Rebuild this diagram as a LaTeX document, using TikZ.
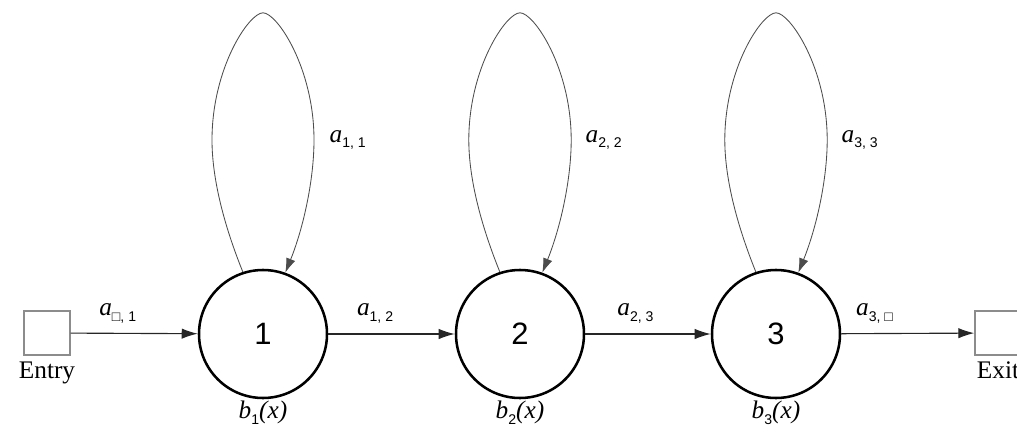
\documentclass[tikz,border=0pt]{standalone}
\usepackage{fontspec}
\setmainfont{Liberation Serif}
\setsansfont{Liberation Sans}
\usetikzlibrary{arrows.meta,positioning}
\newcommand{\trp}[2]{\textit{#1}\raisebox{-0.5ex}{\fontsize{10}{10}\sffamily #2}}

\begin{document}
\begin{tikzpicture}[
  state/.style={circle, draw=black, line width=1.8pt, minimum size=3.2cm, inner sep=0pt,
                font=\fontsize{22}{24}\sffamily},
  term/.style={rectangle, draw=black!45, line width=1pt, minimum width=1.15cm,
               minimum height=1.1cm, inner sep=0pt},
  lbl/.style={font=\fontsize{18}{20}\selectfont, inner sep=1pt},
  flow/.style={-{Latex[length=4mm,width=2.6mm]}, draw=black!85, line width=0.8pt},
  selfloop/.style={-{Latex[length=3.6mm,width=2.4mm]}, draw=black!70, line width=0.6pt}
]
\useasboundingbox (0,0) rectangle (25.425,10.9);
\node[term]  (entry) at (1.175,2.575) {};
\node[term]  (exit)  at (24.95,2.575) {};
\node[state] (s1)    at (6.575,2.55)  {1};
\node[state] (s2)    at (13.0,2.55)   {2};
\node[state] (s3)    at (19.4,2.55)   {3};
\node[lbl, below=3pt of entry] (entrytxt) {Entry};
\node[lbl, below=3pt of exit]  (exittxt)  {Exit};
\node[lbl, below=0pt of s1] (b1) {\trp{b}{1}\textit{(x)}};
\node[lbl, below=0pt of s2] (b2) {\trp{b}{2}\textit{(x)}};
\node[lbl, below=0pt of s3] (b3) {\trp{b}{3}\textit{(x)}};
% loop shape points
\coordinate (w1l) at (5.3,7.4);   \coordinate (t1) at (6.575,10.58); \coordinate (w1r) at (7.85,7.4);
\coordinate (w2l) at (11.72,7.4); \coordinate (t2) at (13.0,10.58);  \coordinate (w2r) at (14.28,7.4);
\coordinate (w3l) at (18.12,7.4); \coordinate (t3) at (19.4,10.58);  \coordinate (w3r) at (20.68,7.4);
% self transitions
\draw[selfloop] (s1.108) .. controls +(112:1.2) and +(0,-1.0) .. (w1l)
  .. controls +(0,1.8) and +(-0.35,0) .. (t1) .. controls +(0.35,0) and +(0,1.8) .. (w1r)
  .. controls +(0,-1.0) and +(68:1.2) .. (s1.70);
\draw[selfloop] (s2.108) .. controls +(112:1.2) and +(0,-1.0) .. (w2l)
  .. controls +(0,1.8) and +(-0.35,0) .. (t2) .. controls +(0.35,0) and +(0,1.8) .. (w2r)
  .. controls +(0,-1.0) and +(68:1.2) .. (s2.70);
\draw[selfloop] (s3.108) .. controls +(112:1.2) and +(0,-1.0) .. (w3l)
  .. controls +(0,1.8) and +(-0.35,0) .. (t3) .. controls +(0.35,0) and +(0,1.8) .. (w3r)
  .. controls +(0,-1.0) and +(68:1.2) .. (s3.70);
\node[lbl, anchor=west] (a11) at (8.2,7.4)   {\trp{a}{1, 1}};
\node[lbl, anchor=west] (a22) at (14.6,7.4)  {\trp{a}{2, 2}};
\node[lbl, anchor=west] (a33) at (21.0,7.4)  {\trp{a}{3, 3}};
% forward transitions
\draw[flow] (entry) -- (s1) node[lbl, pos=0.37, above=6pt] {\trp{a}{□, 1}};
\draw[flow] (s1) -- (s2) node[lbl, pos=0.37, above=6pt] {\trp{a}{1, 2}};
\draw[flow] (s2) -- (s3) node[lbl, pos=0.4, above=6pt] {\trp{a}{2, 3}};
\draw[flow] (s3) -- (exit) node[lbl, pos=0.25, above=6pt] {\trp{a}{3, □}};
\end{tikzpicture}
\end{document}
